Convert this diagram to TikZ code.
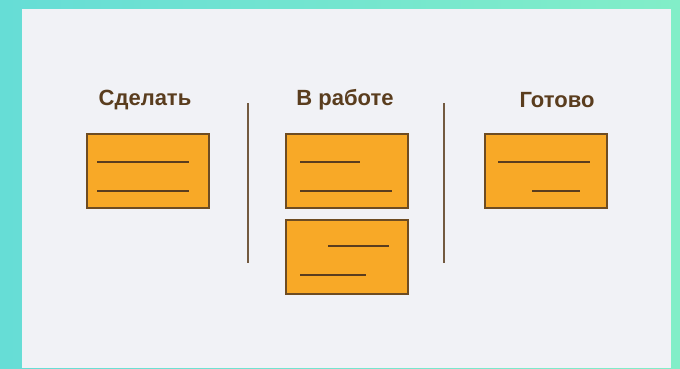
\documentclass[tikz,border=0pt]{standalone}
\usepackage{fontspec}
\setmainfont{Liberation Sans}
\definecolor{bgleft}{HTML}{66DDD6}
\definecolor{bgright}{HTML}{82EEC8}
\definecolor{panel}{HTML}{F1F2F6}
\definecolor{cardfill}{HTML}{F8A927}
\definecolor{cardedge}{HTML}{6E4C22}
\definecolor{ink}{HTML}{5A3D1E}
\tikzset{
  card/.style={draw=cardedge,line width=2pt,fill=cardfill,minimum width=122pt,minimum height=74pt,inner sep=0pt},
  head/.style={text=ink,font=\bfseries\fontsize{22}{24}\selectfont,inner sep=0pt},
  bar/.style={draw=ink,line width=2pt},
  divider/.style={draw=ink!85,line width=1.8pt}
}
\begin{document}
\begin{tikzpicture}[x=1pt,y=-1pt]
\useasboundingbox (0,0) rectangle (680,368);
\shade[left color=bgleft,right color=bgright] (0,0) rectangle (680,368);
\fill[panel] (22,9) rectangle (671,368);
%\node at (340,40) {Kanban};
\node[head] (todo) at (145,100) {Сделать};
\node[head] (doing) at (345,100) {В работе};
\node[head] (done) at (557,100) {Готово};
\draw[divider] (248,103) -- (248,263);
\draw[divider] (444,103) -- (444,263);
\node[card] (todocard) at (147.5,171) {};
\node[card] (doingcard) at (347,171) {};
\node[card] (doingcardb) at (347,257) {};
\node[card] (donecard) at (546,171) {};
\draw[bar] (97,162) -- (189,162);
\draw[bar] (97,191) -- (189,191);
\draw[bar] (300,162) -- (360,162);
\draw[bar] (300,191) -- (392,191);
\draw[bar] (328,246) -- (389,246);
\draw[bar] (300,275) -- (366,275);
\draw[bar] (498,162) -- (590,162);
\draw[bar] (532,191) -- (580,191);
\end{tikzpicture}
\end{document}
